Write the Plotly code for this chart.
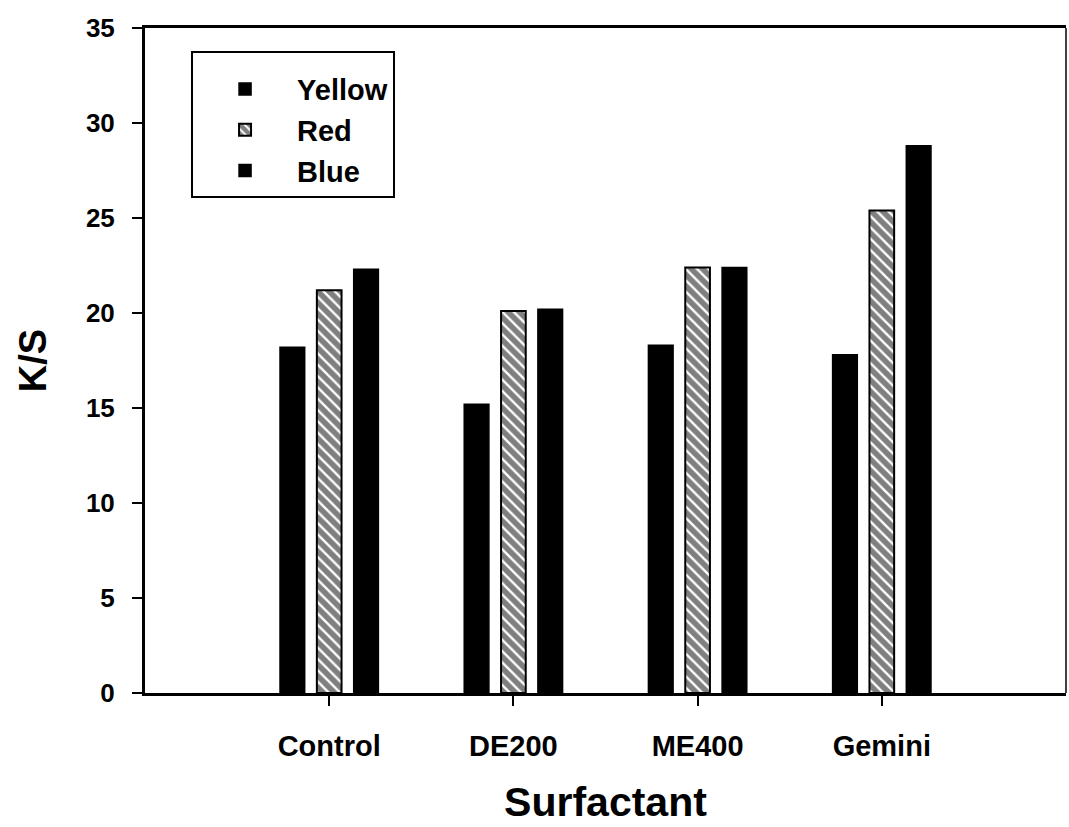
import plotly.graph_objects as go

categories = ["Control", "DE200", "ME400", "Gemini"]
yellow = [18.2, 15.2, 18.3, 17.8]
red = [21.2, 20.1, 22.4, 25.4]
blue = [22.3, 20.2, 22.4, 28.8]
y_ticks = [0, 5, 10, 15, 20, 25, 30, 35]

FONT = "Liberation Sans, Arial, sans-serif"

fig = go.Figure()
fig.add_trace(go.Bar(name="Yellow", x=categories, y=yellow,
                     marker=dict(color="black", line=dict(color="black", width=1.5))))
fig.add_trace(go.Bar(name="Red", x=categories, y=red,
                     marker=dict(color="white", line=dict(color="black", width=2),
                                 pattern=dict(shape="\\", fgcolor="black", bgcolor="white",
                                              size=8, solidity=0.7))))
fig.add_trace(go.Bar(name="Blue", x=categories, y=blue,
                     marker=dict(color="black", line=dict(color="black", width=1.5))))

fig.update_layout(
    width=1069, height=827,
    margin=dict(l=145, r=3, t=28, b=134),
    plot_bgcolor="white", paper_bgcolor="white",
    barmode="group", bargap=0.4, bargroupgap=0.33,
    font=dict(family=FONT, color="black", size=24, weight="bold"),
    showlegend=True,
    legend=dict(x=0.05, y=0.965, xanchor="left", yanchor="top",
                bordercolor="black", borderwidth=2, bgcolor="white",
                font=dict(size=29, family=FONT, weight="bold"),
                title=dict(text=" ", font=dict(size=8)),
                itemwidth=94, tracegroupgap=4),
    xaxis=dict(range=[-1, 4], showline=True, linewidth=3, linecolor="black",
               mirror=True, ticks="outside", ticklen=10, tickwidth=2,
               tickcolor="black", ticklabelstandoff=15,
               tickfont=dict(size=29, family=FONT, weight="bold"),
               title=dict(text="Surfactant", standoff=27,
                          font=dict(size=41, family=FONT, weight="bold"))),
    yaxis=dict(range=[0, 35], tickvals=y_ticks, showline=True, linewidth=3,
               linecolor="black", ticks="outside", ticklen=10, tickwidth=2,
               tickcolor="black", showgrid=False, zeroline=False,
               ticklabelstandoff=12,
               tickfont=dict(size=26, family=FONT, weight="bold"),
               title=dict(text="K/S", standoff=28,
                          font=dict(size=38, family=FONT, weight="bold"))),
    shapes=[dict(type="line", xref="paper", yref="paper", x0=1, x1=1, y0=0, y1=1,
                 line=dict(color="black", width=1.5))],
)

fig.write_html("out.html", config={"displayModeBar": False},
               post_script="document.body.style.margin='0px';document.body.style.overflow='hidden';")
